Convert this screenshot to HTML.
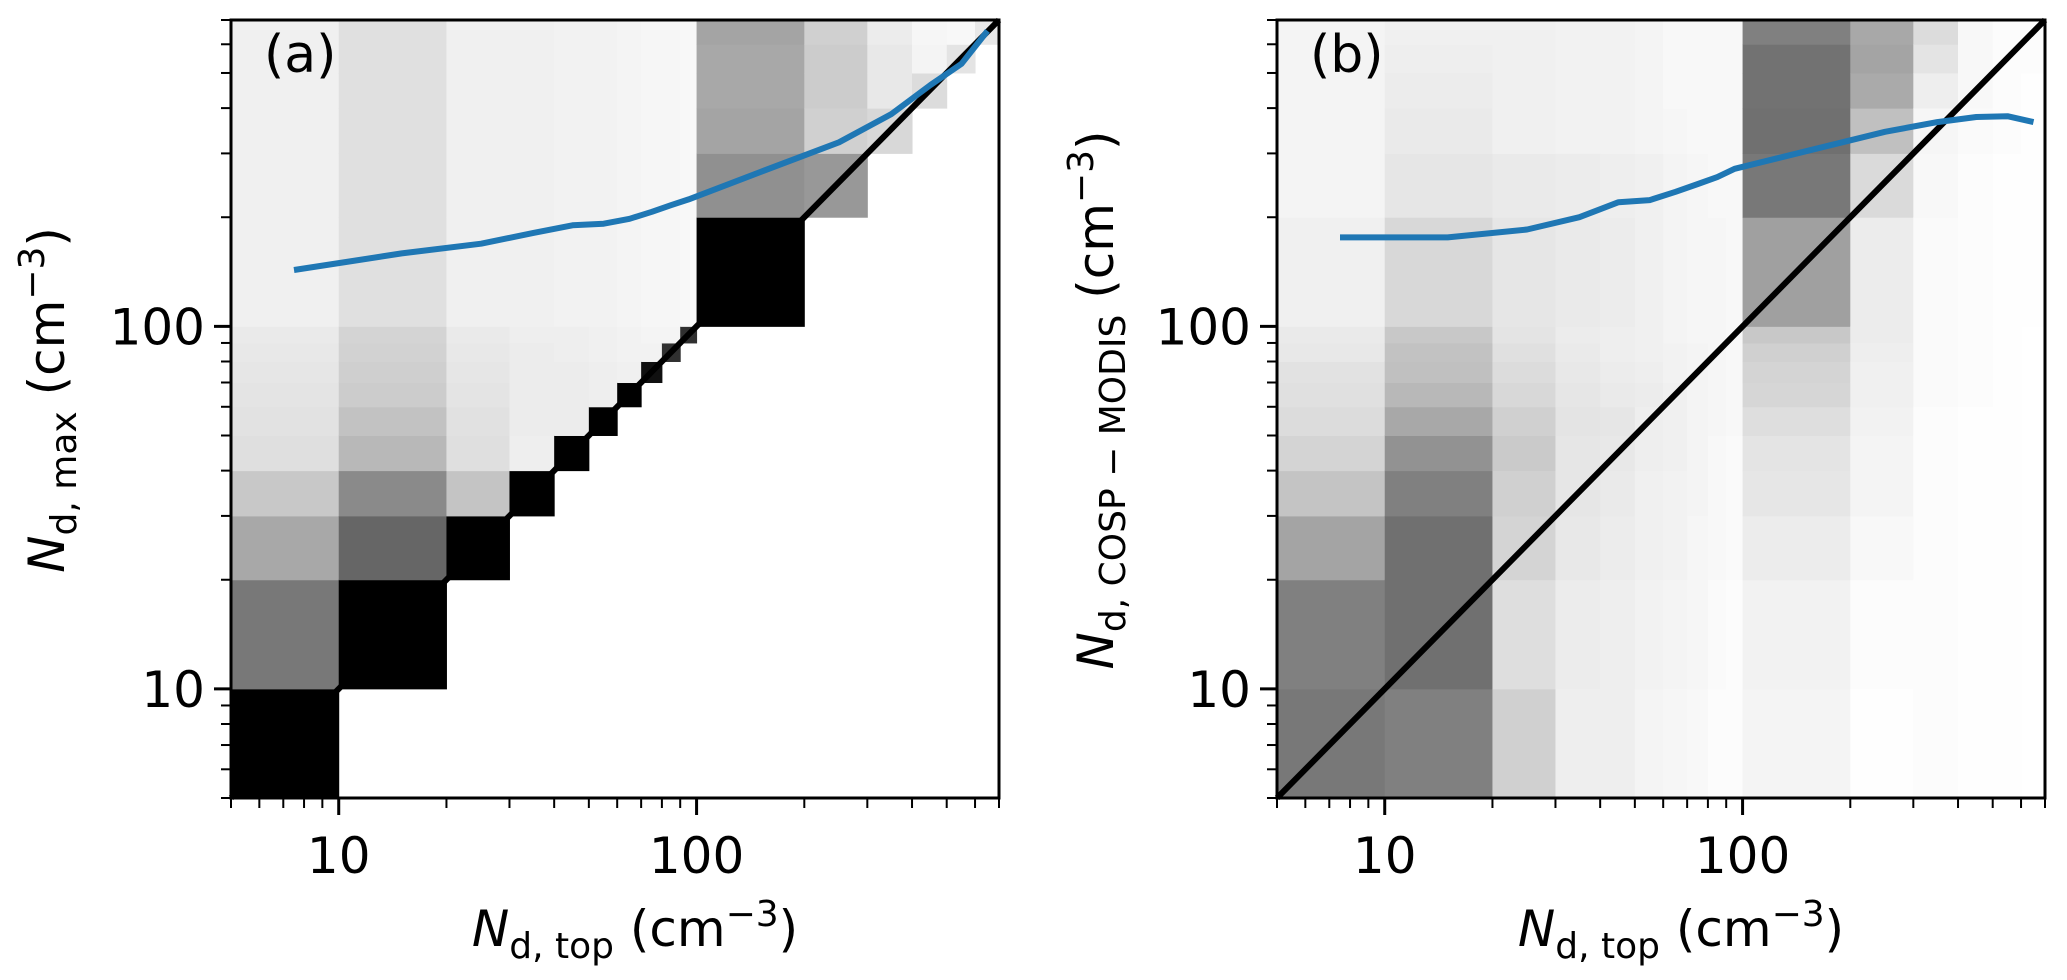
<!DOCTYPE html>
<html><head><meta charset="utf-8"><style>
html,body{margin:0;padding:0;background:#fff;}
svg{display:block;font-family:"DejaVu Sans","Liberation Sans",sans-serif;}
</style></head><body>
<svg id="fig" width="2067" height="980" viewBox="0 0 2067 980"></svg>
<script>
// bin edges (cm^-3)
const binEdges = [5,10,20,30,40,50,60,70,80,90,100,200,300,400,500,600,700];
const tickValues = [10,100];
const tickLabels = ["10","100"];
const minorTicks = [5,6,7,8,9,20,30,40,50,60,70,80,90,200,300,400,500,600,700];
// line x positions (bin centres)
const lineX = [7.5,15,25,35,45,55,65,75,85,95,150,250,350,450,550,650];
const lineA = [143,159,169,181,190,192,198,207,216,224,266,322,385,463,530,653];
const lineB = [176,176,185,200,220,223,235,247,258,272,304,344,366,378,380,366];
// gray levels per column (x bin), rows bottom->top (y bin); 255=white, 0=black
const W=255;
const gridA = [
 [0,0x78,0xA8,0xC8,0xDF,0xE2,0xE4,0xE6,0xE8,0xEA,0xF0,0xF0,0xF0,0xF0,0xF0,0xF0],
 [W,0,0x66,0x8A,0xB8,0xC2,0xCC,0xCF,0xD2,0xD4,0xE0,0xE0,0xE0,0xE0,0xE0,0xE0],
 [W,W,0,0xC4,0xDF,0xE1,0xE4,0xE6,0xE8,0xEA,0xF0,0xF0,0xF0,0xF0,0xF0,0xF0],
 [W,W,W,0,0xEE,0xEC,0xEC,0xEC,0xEC,0xEE,0xF0,0xF0,0xF0,0xF0,0xF0,0xF0],
 [W,W,W,W,0,0xEC,0xEC,0xEC,0xEE,0xEE,0xF2,0xF2,0xF2,0xF2,0xF2,0xF2],
 [W,W,W,W,W,0,0xEE,0xEE,0xF0,0xF0,0xF2,0xF2,0xF2,0xF2,0xF2,0xF2],
 [W,W,W,W,W,W,0,0xF0,0xF2,0xF2,0xF4,0xF4,0xF4,0xF4,0xF4,0xF4],
 [W,W,W,W,W,W,W,0x10,0xF2,0xF4,0xF6,0xF6,0xF6,0xF6,0xF6,0xF6],
 [W,W,W,W,W,W,W,W,0x30,0xF4,0xF6,0xF6,0xF6,0xF6,0xF6,0xF6],
 [W,W,W,W,W,W,W,W,W,0x30,0xF8,0xF8,0xF8,0xF8,0xF8,0xF8],
 [W,W,W,W,W,W,W,W,W,W,0,0x90,0xA4,0xA8,0xA8,0xA4],
 [W,W,W,W,W,W,W,W,W,W,W,0x98,0xD0,0xCC,0xCC,0xD0],
 [W,W,W,W,W,W,W,W,W,W,W,W,0xD8,0xE8,0xE8,0xEC],
 [W,W,W,W,W,W,W,W,W,W,W,W,W,0xDC,0xF4,0xF6],
 [W,W,W,W,W,W,W,W,W,W,W,W,W,W,0xE4,0xF8],
 [W,W,W,W,W,W,W,W,W,W,W,W,W,W,W,0xE8]
];
const gridB = [
 [0x78,0x80,0xA4,0xC4,0xD4,0xDC,0xE0,0xE2,0xE8,0xEA,0xF0,0xF4,0xF4,0xF4,0xF4,0xF4],
 [0x80,0x70,0x70,0x80,0x92,0xA8,0xB8,0xC0,0xC2,0xC8,0xD8,0xE6,0xEA,0xEC,0xEE,0xF0],
 [0xD0,0xDE,0xD4,0xD0,0xCA,0xD0,0xD8,0xDC,0xE0,0xE4,0xE6,0xEA,0xF0,0xF0,0xF0,0xF0],
 [0xEE,0xEC,0xE8,0xE6,0xE6,0xE4,0xE6,0xE8,0xEA,0xEC,0xEA,0xEC,0xF2,0xF2,0xF2,0xF2],
 [0xEE,0xEE,0xEC,0xEA,0xE8,0xE6,0xEA,0xEC,0xEE,0xEE,0xEC,0xEE,0xF2,0xF2,0xF2,0xF2],
 [0xF4,0xF2,0xF0,0xF0,0xEE,0xEE,0xEC,0xEE,0xF0,0xF0,0xF0,0xF0,0xF4,0xF4,0xF4,0xF4],
 [0xF6,0xF4,0xF2,0xF2,0xF0,0xF0,0xF0,0xF2,0xF2,0xF4,0xF4,0xF4,0xF6,0xF8,0xF8,0xF8],
 [0xF8,0xF6,0xF6,0xF4,0xF4,0xF4,0xF4,0xF4,0xF4,0xF6,0xF6,0xF6,0xF8,0xF8,0xF8,0xF8],
 [0xFC,0xFA,0xF8,0xF8,0xF8,0xF6,0xF6,0xF6,0xF6,0xF6,0xF6,0xF8,0xF8,0xF8,0xF8,0xF8],
 [0xFC,0xFC,0xFA,0xFA,0xFA,0xF8,0xF8,0xF8,0xF8,0xF8,0xF8,0xF8,0xF8,0xF8,0xF8,0xF8],
 [0xF4,0xF2,0xEC,0xE6,0xE4,0xDE,0xD6,0xD4,0xD0,0xC8,0xA0,0x78,0x70,0x72,0x72,0x80],
 [0xFE,0xFC,0xF8,0xF4,0xF4,0xF2,0xF0,0xF0,0xEE,0xEC,0xEC,0xDA,0xC0,0xAA,0xA4,0xA8],
 [0xFC,0xFC,0xFC,0xFC,0xFC,0xFC,0xFA,0xFA,0xFA,0xFA,0xFA,0xF8,0xF6,0xEE,0xE4,0xDC],
 [0xFE,0xFE,0xFE,0xFE,0xFE,0xFE,0xFC,0xFC,0xFC,0xFC,0xFC,0xFC,0xFA,0xF8,0xF8,0xF8],
 [0xFE,0xFE,0xFE,0xFE,0xFE,0xFE,0xFE,0xFE,0xFE,0xFE,0xFE,0xFE,0xFC,0xFC,0xFC,0xFC],
 [0xFF,0xFF,0xFF,0xFF,0xFF,0xFF,0xFF,0xFF,0xFF,0xFF,0xFE,0xFE,0xFE,0xFE,0xFC,0xFC]
];

const NS="http://www.w3.org/2000/svg";
const svg=document.getElementById('fig');
function mk(tag,attrs,parent){const e=document.createElementNS(NS,tag);for(const k in attrs)e.setAttribute(k,attrs[k]);(parent||svg).appendChild(e);return e;}
const yTop=20,yBot=798,vmin=5,vmax=700;
function yS(v){return yBot-(Math.log10(v)-Math.log10(vmin))/(Math.log10(vmax)-Math.log10(vmin))*(yBot-yTop);}

function panel(left,grid,line,letter,ylabSub,ylabX){
  const right=left+768;
  const xS=v=>left+(Math.log10(v)-Math.log10(vmin))/(Math.log10(vmax)-Math.log10(vmin))*(right-left);
  const g=mk('g',{});
  
  
  const hm=mk('g',{},g);
  
  
  for(let i=0;i<16;i++)for(let j=0;j<16;j++){
    const v=grid[i][j]; if(v>=255)continue;
    const x0=xS(binEdges[i]),x1=xS(binEdges[i+1]),y0=yS(binEdges[j+1]),y1=yS(binEdges[j]);
    const r=mk('rect',{x:x0,y:y0,width:x1-x0+0.5,height:y1-y0+0.5,fill:`rgb(${v},${v},${v})`},hm);
    
    
  }
  const d=mk('line',{x1:xS(vmin),y1:yS(vmin),x2:xS(vmax),y2:yS(vmax),stroke:'#000','stroke-width':6},g);
  
  
  const pts=lineX.map((x,k)=>xS(x).toFixed(1)+','+yS(line[k]).toFixed(1)).join(' ');
  const pl=mk('polyline',{points:pts,fill:'none',stroke:'#1f77b4','stroke-width':6,'stroke-linejoin':'round'},g);
  
  
  const fr=mk('rect',{x:left,y:yTop,width:right-left,height:yBot-yTop,fill:'none',stroke:'#000','stroke-width':3},g);
  
  
  minorTicks.forEach(v=>{
    mk('line',{x1:xS(v),x2:xS(v),y1:yBot,y2:yBot+10,stroke:'#000','stroke-width':2},g);
    mk('line',{x1:left,x2:left-10,y1:yS(v),y2:yS(v),stroke:'#000','stroke-width':2},g);
  });
  tickValues.forEach((v,k)=>{
    mk('line',{x1:xS(v),x2:xS(v),y1:yBot,y2:yBot+17,stroke:'#000','stroke-width':3},g);
    mk('line',{x1:left,x2:left-17,y1:yS(v),y2:yS(v),stroke:'#000','stroke-width':3},g);
    const tx=mk('text',{x:xS(v),y:873,'font-size':50,'text-anchor':'middle'},g);
    tx.textContent=tickLabels[k];
    
    
    const ty=mk('text',{x:left-26,y:yS(v)+18,'font-size':50,'text-anchor':'end'},g);
    ty.textContent=tickLabels[k];
    
    
  });
  const lt=mk('text',{x:left+33,y:72,'font-size':52},g);
  lt.textContent='('+letter+')';
  
  
  const xt=mk('text',{x:(left+right)/2+20,y:946,'font-size':50,'text-anchor':'middle'},g);
  xt.innerHTML='<tspan font-style="italic">N</tspan><tspan font-size="36" dy="12">d, top</tspan><tspan dy="-12"> (cm</tspan><tspan font-size="36" dy="-20">−3</tspan><tspan dy="20">)</tspan>';
  
  
  const yc=400;
  const yt=mk('text',{x:0,y:0,'font-size':50,'text-anchor':'middle',transform:`translate(${ylabX},${yc}) rotate(-90)`},g);
  yt.innerHTML='<tspan font-style="italic">N</tspan><tspan font-size="36" dy="12">'+ylabSub+'</tspan><tspan dy="-12"> (cm</tspan><tspan font-size="36" dy="-20">−3</tspan><tspan dy="20">)</tspan>';
  
  
}
panel(231,gridA,lineA,'a','d, max',64);
panel(1277,gridB,lineB,'b','d, COSP − MODIS',1113);
</script>
</body></html>
